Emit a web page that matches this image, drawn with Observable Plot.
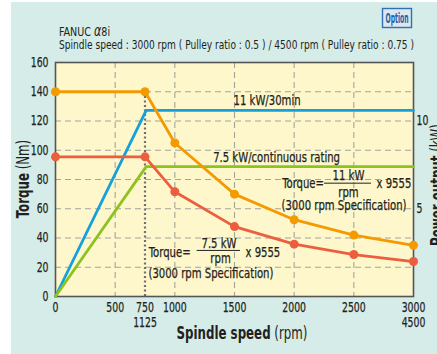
<!DOCTYPE html>
<html>
<head>
<meta charset="utf-8">
<script src="https://cdn.jsdelivr.net/npm/d3@7"></script>
<script src="https://cdn.jsdelivr.net/npm/@observablehq/plot@0.6"></script>
<style>
  html, body { margin: 0; padding: 0; background: #ffffff; }
  #bg { position: absolute; left: 11px; top: 2px; width: 426px; height: 352px; background: #d6ece9; }
  #chart { position: absolute; left: 0; top: 0; }
</style>
</head>
<body>
<div id="bg"></div>
<div id="chart"></div>
<script>
// ---- data ----
const speed = [0, 750, 1000, 1500, 2000, 2500, 3000];
const torque30min = [140, 140, 105, 70, 52.5, 42, 35];
const torqueCont = [95.5, 95.5, 71.6, 47.8, 35.8, 28.7, 23.9];
const powerSpeed = [0, 760, 3000];
const power30min = [0, 10.6, 10.6];
const powerCont = [0, 7.4, 7.4];
const yTicks = [0, 20, 40, 60, 80, 100, 120, 140, 160];
const xTicks = [0, 500, 750, 1000, 1500, 2000, 2500, 3000];
const xTickLabels = ["0", "500", "750\n1125", "1000", "1500", "2000", "2500", "3000\n4500"];
const powerTicks = [5, 10];
const xGrid = [500, 1000, 1500, 2000, 2500];
const yGrid = [20, 40, 60, 80, 100, 120, 140];

const KW_TO_NM = 12; // right-axis (kW) to left-axis (Nm) scale factor

const FONT = '"Liberation Sans Narrow", "Arial Narrow", "DejaVu Sans Condensed", sans-serif';
const C = {orange: "#f39a00", red: "#ec5f3e", blue: "#13a0dc", green: "#8dc21f", text: "#231f20", grid: "#a3a39c"};

const rows = (xs, ys) => xs.map((x, i) => ({x, y: ys[i]}));
const t30 = rows(speed, torque30min);
const tc = rows(speed, torqueCont);
const p30 = rows(powerSpeed, power30min.map(v => v * KW_TO_NM));
const pc = rows(powerSpeed, powerCont.map(v => v * KW_TO_NM));

const ann = (text, x, y, anchor = "start") =>
  Plot.text([text], {x, y, text: d => d, textAnchor: anchor, fontSize: 14, fill: C.text, className: "ann"});

const chart = Plot.plot({
  width: 437, height: 354,
  marginLeft: 55, marginRight: 24, marginTop: 62, marginBottom: 58,
  x: {domain: [0, 3000]},
  y: {domain: [0, 160]},
  style: {background: "transparent", fontFamily: FONT, fontSize: "14px", color: C.text},
  marks: [
    Plot.frame({fill: "#fef7cc"}),
    Plot.gridY(yGrid, {stroke: C.grid, strokeOpacity: 1, strokeDasharray: "6,4", strokeWidth: 1.1}),
    Plot.gridX(xGrid, {stroke: C.grid, strokeOpacity: 1, strokeDasharray: "6,4", strokeWidth: 1.1}),
    Plot.ruleX([750], {y1: 0, y2: 140, stroke: "#6f6f6f", strokeWidth: 2.2, strokeDasharray: "2,2.5"}),
    Plot.frame({stroke: "#555555", strokeWidth: 1.6}),
    Plot.axisY(yTicks, {tickSize: 0, tickPadding: 7, label: null, fontSize: 14, className: "tick"}),
    Plot.axisY(powerTicks.map(v => v * KW_TO_NM), {anchor: "right", tickSize: 0, tickPadding: 3, label: null, fontSize: 14, className: "tick", tickFormat: d => String(Math.round(d / KW_TO_NM))}),
    Plot.axisX(xTicks, {tickSize: 0, tickPadding: 5, label: null, fontSize: 14, lineHeight: 1.08, className: "tick", tickFormat: d => xTickLabels[xTicks.indexOf(d)]}),
    Plot.line(p30, {x: "x", y: "y", stroke: C.blue, strokeWidth: 2.8}),
    Plot.line(pc, {x: "x", y: "y", stroke: C.green, strokeWidth: 2.8}),
    Plot.line(t30, {x: "x", y: "y", stroke: C.orange, strokeWidth: 2.8}),
    Plot.dot(t30, {x: "x", y: "y", fill: C.orange, r: 4.5}),
    Plot.line(tc, {x: "x", y: "y", stroke: C.red, strokeWidth: 2.8}),
    Plot.dot(tc, {x: "x", y: "y", fill: C.red, r: 4.5}),
    // annotations
    ann("11 kW/30min", 1492, 134),
    ann("7.5 kW/continuous rating", 1321, 95.2),
    // formula 1
    ann("Torque=", 1900, 77),
    ann("11 kW", 2455, 83, "middle"),
    Plot.ruleY([77.5], {x1: 2254, x2: 2648, stroke: C.text, strokeWidth: 1}),
    ann("rpm", 2455, 71.3, "middle"),
    ann("x 9555", 2690, 77.3),
    ann("(3000 rpm Specification)", 1894, 62.2),
    // formula 2
    ann("Torque=", 782, 30.3),
    ann("7.5 kW", 1370, 36.5, "middle"),
    Plot.ruleY([31.5], {x1: 1187, x2: 1550, stroke: C.text, strokeWidth: 1}),
    ann("rpm", 1383, 25.8, "middle"),
    ann("x 9555", 1592, 30.3),
    ann("(3000 rpm Specification)", 779, 15.5)
  ]
});

document.getElementById("chart").appendChild(chart);

const svg = d3.select(chart);
const g = svg.append("g").attr("font-family", FONT).attr("fill", C.text).attr("text-anchor", "start");

// title
const title = g.append("text").attr("class", "ttl").attr("x", 59).attr("y", 36).attr("font-size", 13);
title.append("tspan").text("FANUC ");
title.append("tspan").attr("font-style", "italic").attr("font-size", 15).text("α");
title.append("tspan").text("8i");
g.append("text").attr("x", 59).attr("y", 48.5).attr("font-size", 12.5)
  .attr("textLength", 355).attr("lengthAdjust", "spacingAndGlyphs")
  .text("Spindle speed : 3000 rpm ( Pulley ratio : 0.5 ) / 4500 rpm ( Pulley ratio : 0.75 )");

// option badge
g.append("rect").attr("x", 382.5).attr("y", 8.5).attr("width", 29).attr("height", 19)
  .attr("fill", "#dbe8ee").attr("stroke", "#3170b4").attr("stroke-width", 1.4);
g.append("text").attr("x", 397).attr("y", 23).attr("text-anchor", "middle")
  .attr("font-weight", "bold").attr("font-size", 14).attr("fill", "#2460aa")
  .attr("textLength", 23).attr("lengthAdjust", "spacingAndGlyphs").text("Option");

// x axis label
const xl = g.append("text").attr("class", "alab").attr("x", 242).attr("y", 339).attr("text-anchor", "middle").attr("font-size", 17.5);
xl.append("tspan").attr("font-weight", "bold").text("Spindle speed");
xl.append("tspan").text(" (rpm)");

// left axis label
const yl = g.append("text").attr("class", "alab").attr("transform", "translate(29,179) rotate(-90)").attr("text-anchor", "middle").attr("font-size", 17.5);
yl.append("tspan").attr("font-weight", "bold").text("Torque");
yl.append("tspan").text(" (Nm)");

// right axis label
const rl = g.append("text").attr("class", "alab").attr("transform", "translate(443,185) rotate(-90)").attr("text-anchor", "middle").attr("font-size", 17.5);
rl.append("tspan").attr("font-weight", "bold").text("Power output");
rl.append("tspan").text(" (kW)");

// condense glyphs to imitate the narrow typeface of the original
function condense(sel, f) {
  chart.querySelectorAll(sel).forEach(t => {
    const spans = t.querySelectorAll("tspan");
    const targets = spans.length ? Array.from(spans) : [t];
    targets.forEach(el => {
      const L = el.getComputedTextLength();
      if (L > 0) { el.setAttribute("textLength", L * f); el.setAttribute("lengthAdjust", "spacingAndGlyphs"); }
    });
  });
}
condense(".tick text", 0.74);
condense(".ann text", 0.8);
condense("text.alab", 0.75);
condense("text.ttl", 0.82);

// slightly heavier strokes for the condensed text, like the original print
chart.querySelectorAll(".tick text, .ann text").forEach(t => {
  t.setAttribute("stroke", C.text);
  t.setAttribute("stroke-width", "0.25");
});
</script>
</body>
</html>
